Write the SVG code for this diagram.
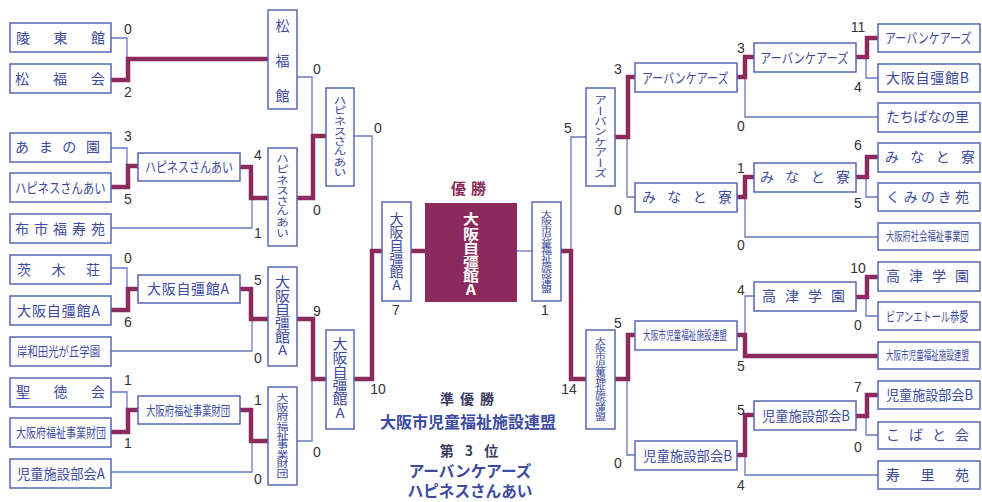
<svg xmlns="http://www.w3.org/2000/svg" width="982" height="502" viewBox="0 0 982 502">
<style>
.b{fill:#fff;stroke:#5866b4;stroke-width:1.5}
.t{font-family:"Noto Sans CJK JP","Noto Sans CJK SC",sans-serif;font-size:14px;fill:#3d4ba0}
.v{font-family:"Noto Sans CJK JP","Noto Sans CJK SC",sans-serif;font-size:13px;fill:#3d4ba0;writing-mode:vertical-rl}
.u{text-orientation:upright}
.w{fill:none;stroke:#8b2b5d;stroke-width:4.5;stroke-linejoin:miter}
.n{fill:none;stroke:#6a78c0;stroke-width:1.3}
.s{font-family:"Liberation Sans",Arial,sans-serif;font-size:14px;fill:#333;text-anchor:middle}
.h{font-family:"Noto Sans CJK JP","Noto Sans CJK SC",sans-serif;font-weight:bold;text-anchor:middle}
</style>
<rect width="982" height="502" fill="#fff"/>
<g id="connectors">
<path class="n" d="M111,38H127V59"/>
<path class="n" d="M297,77H312V136"/>
<path class="n" d="M354,136H372V251"/>
<path class="n" d="M111,148H127V166"/>
<path class="n" d="M111,228H252V198"/>
<path class="n" d="M111,268H127V289"/>
<path class="n" d="M111,351H252V319"/>
<path class="n" d="M297,441H312V379"/>
<path class="n" d="M111,392H127V410"/>
<path class="n" d="M111,472H252V441"/>
<path class="n" d="M517,251H532"/>
<path class="n" d="M586,137H571V251"/>
<path class="n" d="M878,78H866V57"/>
<path class="n" d="M878,117H745V77"/>
<path class="n" d="M635,197H627V132"/>
<path class="n" d="M878,197H866V177"/>
<path class="n" d="M878,237H745V197"/>
<path class="n" d="M878,316H866V297"/>
<path class="n" d="M754,296H745V334"/>
<path class="n" d="M635,455H627V378"/>
<path class="n" d="M878,435H866V417"/>
<path class="n" d="M878,475H745V455"/>
<path class="w" d="M111,80H128V59H268"/>
<path class="w" d="M297,198H313V136H326"/>
<path class="w" d="M354,379H372V251H382"/>
<path class="w" d="M111,187H128V166H138"/>
<path class="w" d="M240,167H251V198H268"/>
<path class="w" d="M111,310H128V289H138"/>
<path class="w" d="M240,289H251V319H268"/>
<path class="w" d="M297,319H313V379H326"/>
<path class="w" d="M111,432H128V410H138"/>
<path class="w" d="M240,410H251V441H268"/>
<path class="w" d="M411,251H425"/>
<path class="w" d="M561,251H571V379H586"/>
<path class="w" d="M878,38H867V57H856"/>
<path class="w" d="M754,57H745V77H737"/>
<path class="w" d="M635,77H628V137H615"/>
<path class="w" d="M878,157H867V177H856"/>
<path class="w" d="M754,177H745V197H737"/>
<path class="w" d="M878,277H867V297H856"/>
<path class="w" d="M878,356H745V335H737"/>
<path class="w" d="M635,335H628V379H615"/>
<path class="w" d="M878,395H867V416H856"/>
<path class="w" d="M754,415H745V455H737"/>
</g>
<g id="scores">
<text class="s" x="128" y="34">0</text>
<text class="s" x="128" y="97">2</text>
<text class="s" x="317" y="74">0</text>
<text class="s" x="378" y="133">0</text>
<text class="s" x="128" y="141">3</text>
<text class="s" x="128" y="204">5</text>
<text class="s" x="258" y="160">4</text>
<text class="s" x="258" y="238">1</text>
<text class="s" x="317" y="215">0</text>
<text class="s" x="128" y="263">0</text>
<text class="s" x="128" y="327">6</text>
<text class="s" x="258" y="285">5</text>
<text class="s" x="258" y="363">0</text>
<text class="s" x="317" y="316">9</text>
<text class="s" x="128" y="385">1</text>
<text class="s" x="128" y="448">1</text>
<text class="s" x="258" y="405">1</text>
<text class="s" x="258" y="484">0</text>
<text class="s" x="317" y="457">0</text>
<text class="s" x="378" y="394">10</text>
<text class="s" x="396" y="315">7</text>
<text class="s" x="545" y="315">1</text>
<text class="s" x="569" y="394">14</text>
<text class="s" x="568" y="133">5</text>
<text class="s" x="858" y="32">11</text>
<text class="s" x="858" y="92">4</text>
<text class="s" x="741" y="53">3</text>
<text class="s" x="741" y="131">0</text>
<text class="s" x="618" y="74">3</text>
<text class="s" x="618" y="215">0</text>
<text class="s" x="858" y="150">6</text>
<text class="s" x="858" y="208">5</text>
<text class="s" x="741" y="173">1</text>
<text class="s" x="741" y="250">0</text>
<text class="s" x="858" y="273">10</text>
<text class="s" x="858" y="330">0</text>
<text class="s" x="741" y="295">4</text>
<text class="s" x="741" y="371">5</text>
<text class="s" x="618" y="328">5</text>
<text class="s" x="618" y="468">0</text>
<text class="s" x="858" y="392">7</text>
<text class="s" x="858" y="452">0</text>
<text class="s" x="741" y="415">5</text>
<text class="s" x="741" y="490">4</text>
</g>
<g id="L1"><rect class="b" x="10" y="23" width="101" height="29"/><text class="t" x="16" y="43" textLength="89" lengthAdjust="spacing">陵東館</text></g>
<g id="L2"><rect class="b" x="10" y="64" width="101" height="29"/><text class="t" x="15" y="84" textLength="90" lengthAdjust="spacing">松福会</text></g>
<g id="L3"><rect class="b" x="10" y="133" width="101" height="29"/><text class="t" x="15" y="152" textLength="85" lengthAdjust="spacing">あまの園</text></g>
<g id="L4"><rect class="b" x="10" y="173" width="101" height="29"/><text class="t" transform="translate(15,193) scale(0.81,1)">ハピネスさんあい</text></g>
<g id="L5"><rect class="b" x="10" y="214" width="101" height="29"/><text class="t" x="15" y="234" textLength="90" lengthAdjust="spacing">布市福寿苑</text></g>
<g id="L6"><rect class="b" x="10" y="255" width="101" height="29"/><text class="t" x="17" y="275" textLength="83" lengthAdjust="spacing">茨木荘</text></g>
<g id="L7"><rect class="b" x="10" y="296" width="101" height="29"/><text class="t" x="17" y="316" textLength="83" lengthAdjust="spacing">大阪自彊館A</text></g>
<g id="L8"><rect class="b" x="10" y="337" width="101" height="29"/><text class="t" transform="translate(17,356) scale(0.8,1)" style="font-size:13px">岸和田光が丘学園</text></g>
<g id="L9"><rect class="b" x="10" y="378" width="101" height="29"/><text class="t" x="16" y="397" textLength="89" lengthAdjust="spacing">聖徳会</text></g>
<g id="L10"><rect class="b" x="10" y="418" width="101" height="29"/><text class="t" transform="translate(16,437) scale(0.77,1)" style="font-size:13px">大阪府福祉事業財団</text></g>
<g id="L11"><rect class="b" x="10" y="459" width="101" height="29"/><text class="t" transform="translate(17,479) scale(0.95,1)">児童施設部会A</text></g>
<g id="LR1a"><rect class="b" x="138" y="153" width="102" height="28"/><text class="t" transform="translate(145,172) scale(0.786,1)">ハピネスさんあい</text></g>
<g id="LR1b"><rect class="b" x="138" y="275" width="102" height="28"/><text class="t" x="147" y="294" textLength="82" lengthAdjust="spacing">大阪自彊館A</text></g>
<g id="LR1c"><rect class="b" x="138" y="396" width="102" height="28"/><text class="t" transform="translate(146,415) scale(0.72,1)" style="font-size:13px">大阪府福祉事業財団</text></g>
<g id="LR2a"><rect class="b" x="268" y="10" width="29" height="99"/><text class="v" x="282.5" y="19" textLength="84" lengthAdjust="spacing" style="font-size:14px">松福館</text></g>
<g id="LR2b"><rect class="b" x="268" y="148" width="29" height="98"/><text class="v" transform="translate(282.5,153) scale(1,0.817)">ハピネスさんあい</text></g>
<g id="LR2c"><rect class="b" x="268" y="267" width="29" height="99"/><text class="v u" transform="translate(282.5,275) scale(1,0.91)" style="font-size:15px">大阪自彊館A</text></g>
<g id="LR2d"><rect class="b" x="268" y="387" width="29" height="98"/><text class="v" transform="translate(282.5,393) scale(1,0.787)" style="font-size:12px">大阪府福祉事業財団</text></g>
<g id="LR3a"><rect class="b" x="326" y="88" width="28" height="98"/><text class="v" transform="translate(340,95) scale(1,0.79)">ハピネスさんあい</text></g>
<g id="LR3b"><rect class="b" x="326" y="330" width="28" height="99"/><text class="v u" transform="translate(340,337) scale(1,0.92)" style="font-size:15px">大阪自彊館A</text></g>
<g id="SF1"><rect class="b" x="382" y="202" width="29" height="99"/><text class="v u" transform="translate(396.5,212) scale(1,0.95)" style="font-size:14px">大阪自彊館A</text></g>
<g id="SF2"><rect class="b" x="532" y="202" width="29" height="99"/><text class="v" transform="translate(546.5,210) scale(1,0.686)" style="font-size:11px">大阪市児童福祉施設連盟</text></g>
<g id="champion"><rect x="425" y="203" width="92" height="99" fill="#8b2b5d"/><text class="v u" transform="translate(471,212) scale(1,0.885)" style="font-size:16px;font-weight:bold;fill:#fff">大阪自彊館A</text></g>
<g id="RR3a"><rect class="b" x="586" y="88" width="29" height="98"/><text class="v" transform="translate(600.5,95) scale(1,0.8)">アーバンケアーズ</text></g>
<g id="RR3b"><rect class="b" x="586" y="330" width="29" height="99"/><text class="v" transform="translate(600.5,337) scale(1,0.694)" style="font-size:11px">大阪市児童福祉施設連盟</text></g>
<g id="RR2a"><rect class="b" x="635" y="63" width="102" height="29"/><text class="t" transform="translate(642,83) scale(0.786,1)">アーバンケアーズ</text></g>
<g id="RR2b"><rect class="b" x="635" y="183" width="102" height="29"/><text class="t" x="642" y="202" textLength="90" lengthAdjust="spacing">みなと寮</text></g>
<g id="RR2c"><rect class="b" x="635" y="321" width="102" height="29"/><text class="t" transform="translate(643,340) scale(0.636,1)" style="font-size:12px">大阪市児童福祉施設連盟</text></g>
<g id="RR2d"><rect class="b" x="635" y="441" width="102" height="29"/><text class="t" transform="translate(643,461) scale(0.957,1)">児童施設部会B</text></g>
<g id="RR1a"><rect class="b" x="754" y="43" width="102" height="29"/><text class="t" transform="translate(760,63) scale(0.804,1)">アーバンケアーズ</text></g>
<g id="RR1b"><rect class="b" x="754" y="163" width="102" height="29"/><text class="t" x="760" y="182" textLength="90" lengthAdjust="spacing">みなと寮</text></g>
<g id="RR1c"><rect class="b" x="754" y="282" width="102" height="29"/><text class="t" x="762" y="301" textLength="83" lengthAdjust="spacing">高津学園</text></g>
<g id="RR1d"><rect class="b" x="754" y="401" width="102" height="29"/><text class="t" transform="translate(762,421) scale(0.946,1)">児童施設部会B</text></g>
<g id="R1"><rect class="b" x="878" y="24" width="102" height="28"/><text class="t" transform="translate(885,43) scale(0.786,1)">アーバンケアーズ</text></g>
<g id="R2"><rect class="b" x="878" y="64" width="102" height="28"/><text class="t" x="886" y="83" textLength="83" lengthAdjust="spacing">大阪自彊館B</text></g>
<g id="R3"><rect class="b" x="878" y="103" width="102" height="29"/><text class="t" x="886" y="122" textLength="83" lengthAdjust="spacing">たちばなの里</text></g>
<g id="R4"><rect class="b" x="878" y="143" width="102" height="29"/><text class="t" x="885" y="162" textLength="90" lengthAdjust="spacing">みなと寮</text></g>
<g id="R5"><rect class="b" x="878" y="183" width="102" height="28"/><text class="t" x="886" y="202" textLength="83" lengthAdjust="spacing">くみのき苑</text></g>
<g id="R6"><rect class="b" x="878" y="223" width="102" height="27"/><text class="t" transform="translate(886,241) scale(0.692,1)" style="font-size:12px">大阪府社会福祉事業団</text></g>
<g id="R7"><rect class="b" x="878" y="262" width="102" height="29"/><text class="t" x="886" y="281" textLength="83" lengthAdjust="spacing">高津学園</text></g>
<g id="R8"><rect class="b" x="878" y="302" width="102" height="28"/><text class="t" transform="translate(886,321) scale(0.709,1)" style="font-size:13px">ビアンエトール恭愛</text></g>
<g id="R9"><rect class="b" x="878" y="342" width="102" height="27"/><text class="t" transform="translate(886,360) scale(0.629,1)" style="font-size:12px">大阪市児童福祉施設連盟</text></g>
<g id="R10"><rect class="b" x="878" y="381" width="102" height="28"/><text class="t" transform="translate(886,400) scale(0.935,1)">児童施設部会B</text></g>
<g id="R11"><rect class="b" x="878" y="422" width="102" height="27"/><text class="t" x="886" y="440" textLength="83" lengthAdjust="spacing">こばと会</text></g>
<g id="R12"><rect class="b" x="878" y="461" width="102" height="28"/><text class="t" x="886" y="480" textLength="83" lengthAdjust="spacing">寿里苑</text></g>
<g id="results">
<text class="h" x="471" y="194" style="font-size:15px;fill:#8b2b5d;letter-spacing:5px">優勝</text>
<text class="h" x="470" y="404" style="font-size:14px;fill:#3a3a60;letter-spacing:6px">準優勝</text>
<text class="h" x="468" y="428" style="font-size:16px;fill:#3d4ba0">大阪市児童福祉施設連盟</text>
<text class="h" x="470" y="477" style="font-size:15.6px;fill:#3d4ba0">アーバンケアーズ</text>
<text class="h" x="470" y="497" style="font-size:15.6px;fill:#3d4ba0">ハピネスさんあい</text>
<text class="h" x="471" y="456" style="font-size:14px;fill:#3a3a60;letter-spacing:4px">第 3 位</text>
</g>
</svg>
